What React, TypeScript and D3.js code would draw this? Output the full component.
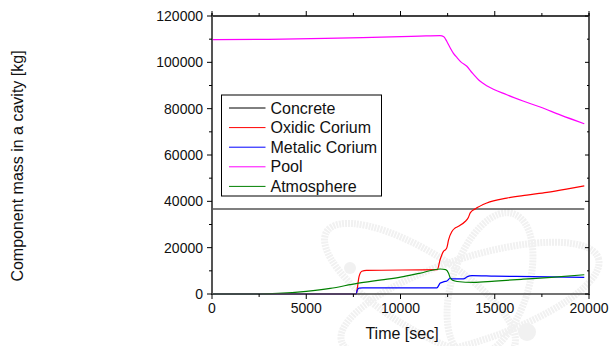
import React from "react";
import * as d3 from "d3";

const xTicks = [0, 5000, 10000, 15000, 20000];
const yTicks = [0, 20000, 40000, 60000, 80000, 100000, 120000];
const seriesNames = ["Concrete", "Oxidic Corium", "Metalic Corium", "Pool", "Atmosphere"];
const seriesColors = ["#000000", "#ff0000", "#0000ff", "#ff00ff", "#008000"];

const concreteT = [0, 19750];
const concreteV = [36700, 36700];

const poolT = [0, 3000, 6000, 9000, 11000, 12100, 12300, 12460, 12640, 12800, 13000, 13200, 13520, 13800, 14230, 14600, 15640, 16500, 17410, 18500, 19750];
const poolV = [109800, 109900, 110300, 110900, 111300, 111500, 111000, 109000, 106200, 104000, 102000, 100200, 98300, 95500, 91800, 89800, 86000, 83300, 80700, 77200, 73500];

const oxidicT = [0, 7650, 7700, 7800, 7950, 8200, 11950, 12100, 12280, 12370, 12460, 12550, 12730, 12900, 13080, 13430, 13600, 13700, 13960, 14580, 15640, 16700, 17770, 18800, 19750];
const oxidicV = [0, 0, 2000, 7500, 9800, 10200, 10500, 14800, 18400, 19000, 20000, 23400, 27000, 28500, 29200, 31300, 33000, 35000, 36700, 39300, 41400, 42700, 43900, 45300, 46700];

const metalicT = [0, 7650, 7700, 7800, 8000, 11930, 12110, 12200, 12370, 12460, 12640, 12750, 13340, 13550, 13790, 15000, 17000, 19750];
const metalicV = [0, 0, 1500, 2500, 2650, 2650, 4750, 5000, 5440, 5600, 6900, 6500, 6500, 7500, 7900, 7700, 7500, 7200];

const atmosT = [0, 2500, 3500, 5000, 6270, 7700, 9000, 10000, 11000, 12110, 12400, 12550, 12640, 12800, 13000, 13870, 15000, 16500, 18000, 19750];
const atmosV = [0, 0, 250, 1150, 2400, 4600, 6100, 7300, 8900, 10800, 10500, 9000, 6900, 5800, 5400, 5000, 5600, 6400, 7200, 8300];

const seriesT = [concreteT, oxidicT, metalicT, poolT, atmosT];
const seriesV = [concreteV, oxidicV, metalicV, poolV, atmosV];

const W = 611;
const H = 346;
const left = 212;
const right = 589;
const top = 16;
const bottom = 294;
const FONT = "'Liberation Sans', Arial, sans-serif";

export default function App() {
  const x = d3.scaleLinear().domain([0, 20000]).range([left, right]);
  const y = d3.scaleLinear().domain([0, 120000]).range([bottom, top]);
  const line = d3
    .line<[number, number]>()
    .x((d) => x(d[0]))
    .y((d) => y(d[1]))
    .curve(d3.curveMonotoneX);

  const xMinor = d3.range(0, 20001, 2500).filter((v) => v % 5000 !== 0);
  const yMinor = d3.range(0, 120001, 10000).filter((v) => v % 20000 !== 0);

  const legX = 221.5;
  const legY = 95;
  const legW = 160;
  const legH = 101;
  const rowY0 = 108;
  const rowStep = 19.6;

  return (
    <svg width={W} height={H} style={{ position: "absolute", left: 0, top: 0, background: "#fff" }}>
      <rect x={0} y={0} width={W} height={H} fill="#fff" />
      {/* watermark */}
      <g fill="none" stroke="#f1f1f1" strokeWidth={7} strokeDasharray="2 1">
        <ellipse cx={470} cy={300} rx={135} ry={42} transform="rotate(-18 470 300)" />
        <ellipse cx={490} cy={285} rx={38} ry={75} transform="rotate(18 490 285)" />
        <ellipse cx={420} cy={290} rx={110} ry={38} transform="rotate(32 420 290)" />
      </g>
      <g fill="#f1f1f1">
        <circle cx={527} cy={332} r={9} />
        <circle cx={350} cy={268} r={6} />
      </g>

      {/* series */}
      {seriesNames.map((name, i) => {
        const pts: [number, number][] = seriesT[i].map((t, j) => [t, seriesV[i][j]]);
        return (
          <path key={name} d={line(pts) || ""} fill="none" stroke={seriesColors[i]} strokeWidth={1.2} />
        );
      })}

      {/* frame */}
      <line x1={left} x2={right} y1={top} y2={top} stroke="#000" strokeWidth={1.3} />
      <line x1={left} x2={right} y1={bottom} y2={bottom} stroke="#444" strokeWidth={1.3} />
      <line x1={left} x2={left} y1={top - 3} y2={bottom + 1} stroke="#555" strokeWidth={2} />
      <line x1={right} x2={right} y1={top - 3} y2={bottom + 1} stroke="#555" strokeWidth={2} />

      {/* x ticks */}
      {xTicks.map((t) => (
        <g key={"xt" + t}>
          <line x1={x(t)} x2={x(t)} y1={bottom} y2={bottom + 5} stroke="#000" />
          <line x1={x(t)} x2={x(t)} y1={top} y2={top - 5} stroke="#000" />
          <text x={x(t)} y={313} textAnchor="middle" fontFamily={FONT} fontSize={14} fill="#111">
            {t}
          </text>
        </g>
      ))}
      {xMinor.map((t) => (
        <g key={"xm" + t}>
          <line x1={x(t)} x2={x(t)} y1={bottom} y2={bottom + 3} stroke="#000" />
          <line x1={x(t)} x2={x(t)} y1={top} y2={top - 3} stroke="#000" />
        </g>
      ))}

      {/* y ticks */}
      {yTicks.map((v) => (
        <g key={"yt" + v}>
          <line x1={left} x2={left - 5} y1={y(v)} y2={y(v)} stroke="#000" />
          <line x1={right} x2={right - 4} y1={y(v)} y2={y(v)} stroke="#000" />
          <text x={203} y={y(v) + 5} textAnchor="end" fontFamily={FONT} fontSize={14} fill="#111">
            {v}
          </text>
        </g>
      ))}
      {yMinor.map((v) => (
        <g key={"ym" + v}>
          <line x1={left} x2={left - 3} y1={y(v)} y2={y(v)} stroke="#000" />
          <line x1={right} x2={right - 2} y1={y(v)} y2={y(v)} stroke="#000" />
        </g>
      ))}

      {/* axis titles */}
      <text x={402} y={339} textAnchor="middle" fontFamily={FONT} fontSize={16} fill="#111">
        Time [sec]
      </text>
      <text
        x={0}
        y={0}
        transform="translate(23,166) rotate(-90)"
        textAnchor="middle"
        fontFamily={FONT}
        fontSize={16}
        fill="#111"
      >
        Component mass in a cavity [kg]
      </text>

      {/* legend */}
      <rect x={legX} y={legY} width={legW} height={legH} fill="#fff" stroke="#000" strokeWidth={1} />
      {seriesNames.map((name, i) => {
        const cy = rowY0 + i * rowStep;
        return (
          <g key={"lg" + name}>
            <line x1={229} x2={265.5} y1={cy} y2={cy} stroke={seriesColors[i]} strokeWidth={1} />
            <text x={270.5} y={cy + 5.5} fontFamily={FONT} fontSize={16} fill="#111">
              {name}
            </text>
          </g>
        );
      })}
    </svg>
  );
}
